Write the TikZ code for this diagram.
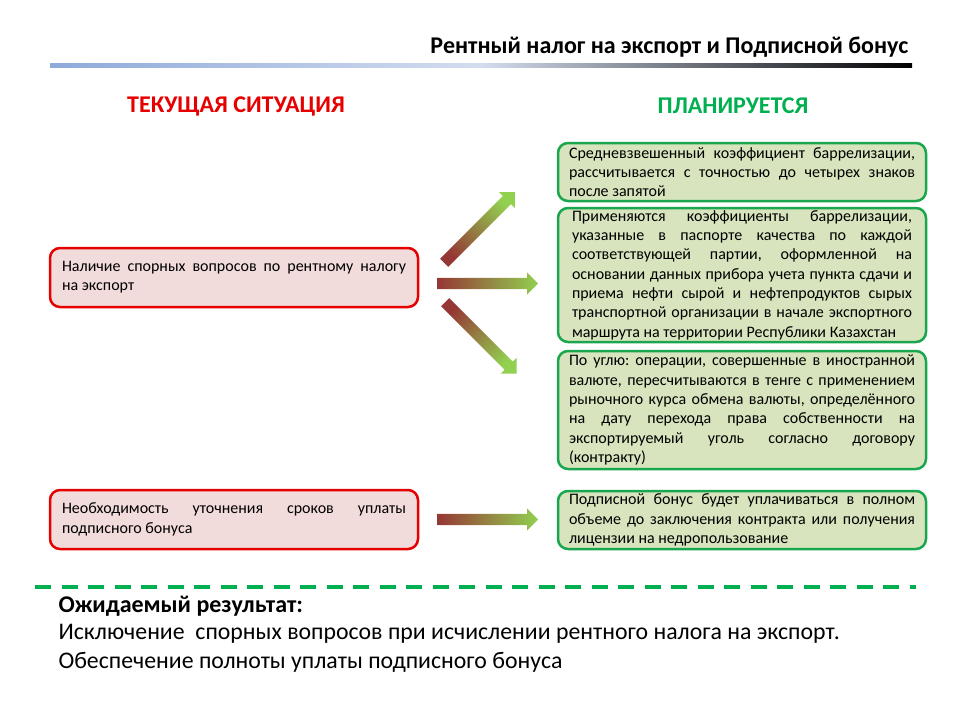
\documentclass[tikz,border=0pt]{standalone}
\usepackage{fontspec}
\setmainfont{Carlito}
\usetikzlibrary{shapes.arrows,positioning}

\definecolor{sitred}{HTML}{E60000}
\definecolor{boxred}{HTML}{F2DCDB}
\definecolor{plangreen}{HTML}{00B050}
\definecolor{boxgreen}{HTML}{D7E4BD}
\definecolor{edgegreen}{HTML}{1AA64F}
\definecolor{arrred}{HTML}{953735}
\definecolor{arrgreen}{HTML}{92D050}
\definecolor{barblue}{HTML}{8EA9DB}
\definecolor{barlight}{HTML}{D3DDEF}

\newcommand{\boxfont}{\fontsize{16}{19.3}\selectfont\frenchspacing}
\newcommand{\bigfont}{\fontsize{24}{28}\selectfont}

\begin{document}
\begin{tikzpicture}[x=1pt, y=-1pt,
	current/.style={draw=sitred, fill=boxred, line width=2.5pt, rounded corners=10pt,
		minimum width=368pt, minimum height=59pt, text width=344pt, align=justify,
		font=\boxfont, inner sep=0pt},
	planned/.style={draw=edgegreen, fill=boxgreen, line width=2.5pt, rounded corners=10pt,
		minimum width=368pt, text width=346pt, align=justify, font=\boxfont, inner sep=0pt},
	gradarrow/.style={single arrow, draw=none, single arrow head extend=5.5pt,
		text height=5.5pt, text depth=5.5pt, inner sep=0pt,
		top color=arrgreen, bottom color=arrred, shading angle=#1},
	header/.style={font=\bigfont\bfseries}]
	\useasboundingbox (0,0) rectangle (960,720);

	\node[anchor=east, font=\bigfont\bfseries] (title) at (912,47)
		{Рентный налог на экспорт и Подписной бонус};
	\shade[left color=barblue, right color=black, middle color=barlight] (50,63.5) rectangle (912,67.5);

	\node[header, text=sitred] (nowhead) at (236,106) {ТЕКУЩАЯ СИТУАЦИЯ};
	\node[header, text=plangreen] (planhead) at (733,106) {ПЛАНИРУЕТСЯ};

	\node[current] (rent) at (234,277.5) {Наличие спорных вопросов по рентному налогу\linebreak на экспорт};
	\node[current] (bonus) at (234,519.5) {Необходимость уточнения сроков уплаты\linebreak подписного бонуса};

	\node[planned, minimum height=58pt] (avg) at (742,172)
		{Средневзвешенный коэффициент баррелизации,\linebreak рассчитывается с точностью до четырех знаков\linebreak после запятой};
	\node[planned, minimum height=134pt, text width=340pt] (passport) at (742,275)
		{Применяются коэффициенты баррелизации,\linebreak указанные в паспорте качества по каждой\linebreak соответствующей партии, оформленной на\linebreak основании данных прибора учета пункта сдачи и\linebreak приема нефти сырой и нефтепродуктов сырых\linebreak транспортной организации в начале экспортного\linebreak маршрута на территории Республики Казахстан};
	\node[planned, minimum height=118pt] (coal) at (742,410)
		{По углю: операции, совершенные в иностранной\linebreak валюте, пересчитываются в тенге с применением\linebreak рыночного курса обмена валюты, определённого\linebreak на дату перехода права собственности на\linebreak экспортируемый уголь согласно договору\linebreak (контракту)};
	\node[planned, minimum height=58pt] (payment) at (742,520)
		{Подписной бонус будет уплачиваться в полном\linebreak объеме до заключения контракта или получения\linebreak лицензии на недропользование};

	\node[gradarrow=-45, minimum height=100pt, rotate=45, anchor=tail] (arrup) at (444,263) {};
	\node[gradarrow=-90, minimum height=101pt, anchor=tail] (arrmid) at (437,283.5) {};
	\node[gradarrow=-135, minimum height=101pt, rotate=-45, anchor=tail] (arrdown) at (445,302) {};
	\node[gradarrow=-90, minimum height=101pt, anchor=tail] (arrbonus) at (437,519.5) {};

	\draw[plangreen, line width=3.5pt, dash pattern=on 16pt off 10.5pt] (35,587) -- (916,587);

	\node[anchor=west, font=\bigfont\bfseries] (result) at (55,606) {Ожидаемый результат:};
	\node[anchor=west, font=\fontsize{23.8}{28}\selectfont] (effect1) at (55,634)
		{Исключение\ \ спорных вопросов при исчислении рентного налога на экспорт.};
	\node[anchor=west, font=\fontsize{23.8}{28}\selectfont] (effect2) at (55,662)
		{Обеспечение полноты уплаты подписного бонуса};
\end{tikzpicture}
\end{document}
